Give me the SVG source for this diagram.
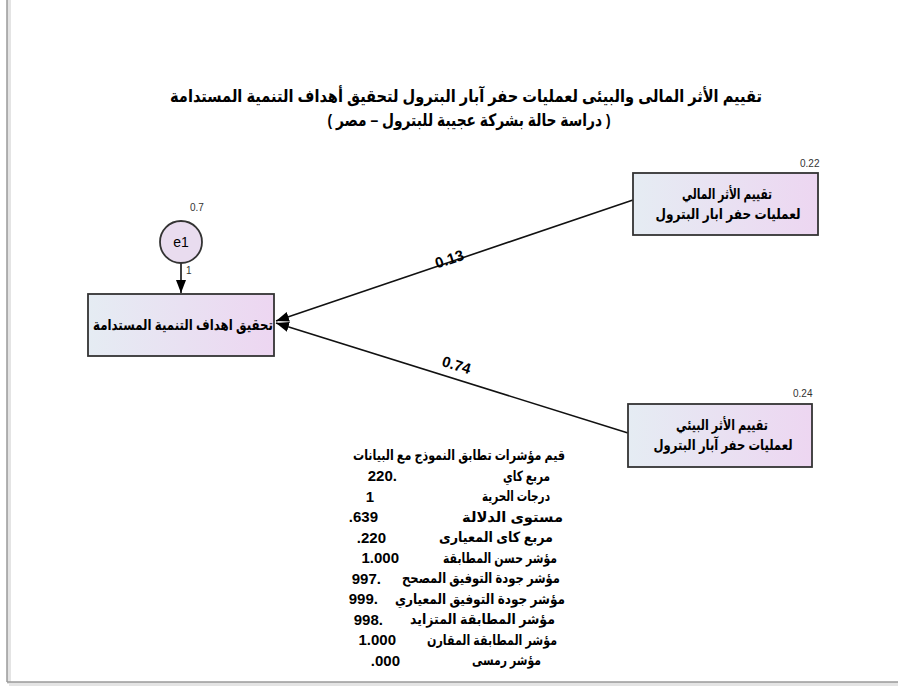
<svg xmlns="http://www.w3.org/2000/svg" width="898" height="686" viewBox="0 0 898 686">
<defs>
<linearGradient id="boxfill" x1="0" y1="0" x2="1" y2="0">
<stop offset="0" stop-color="#e5ecf3"/>
<stop offset="1" stop-color="#edd6f1"/>
</linearGradient>
<marker id="arr" viewBox="0 0 13 10" refX="13" refY="5" markerWidth="13" markerHeight="10" markerUnits="userSpaceOnUse" orient="auto">
<path d="M0,0 L13,5 L0,10 z" fill="#000"/>
</marker>
</defs>
<style>
.ar{font-family:'Liberation Sans','DejaVu Sans',sans-serif;font-weight:bold;fill:#000}
.box{fill:url(#boxfill);stroke:#333;stroke-width:1.8}
.small{font-family:'Liberation Sans','DejaVu Sans',sans-serif;font-size:10px;fill:#333}
.num{font-family:'Liberation Sans',sans-serif;font-weight:bold;font-size:15px;fill:#000;text-anchor:end}
.tab{font-family:'Liberation Sans','DejaVu Sans',sans-serif;font-weight:bold;font-size:14px;fill:#000;text-anchor:end}
.conn{stroke:#111;stroke-width:1.6;fill:none}
</style>
<rect x="0" y="0" width="898" height="686" fill="#fff"/>
<g id="frame">
<line x1="9" y1="0" x2="9" y2="684" stroke="#e4e4e4" stroke-width="4"/>
<line x1="9" y1="684" x2="898" y2="684" stroke="#e4e4e4" stroke-width="4"/>
<line x1="7" y1="0" x2="7" y2="682" stroke="#9a9a9a" stroke-width="1.5"/>
<line x1="7" y1="682" x2="898" y2="682" stroke="#9a9a9a" stroke-width="1.5"/>
</g>
<g id="title">
<text class="ar" x="466" y="102" font-size="17" text-anchor="middle" textLength="592" lengthAdjust="spacingAndGlyphs">تقييم الأثر المالى والبيئى لعمليات حفر آبار البترول لتحقيق أهداف التنمية المستدامة</text>
<text class="ar" x="469" y="126" font-size="17" text-anchor="middle" textLength="283" lengthAdjust="spacingAndGlyphs">( دراسة حالة بشركة عجيبة للبترول – مصر )</text>
</g>
<g id="connectors">
<line class="conn" x1="633" y1="200" x2="276" y2="321" marker-end="url(#arr)"/>
<line class="conn" x1="628" y1="433" x2="276" y2="323" marker-end="url(#arr)"/>
<line class="conn" x1="181" y1="263" x2="181" y2="293" marker-end="url(#arr)"/>
<text class="num" transform="translate(451,264) rotate(-18)" style="text-anchor:middle">0.13</text>
<text class="num" transform="translate(455,370) rotate(17)" style="text-anchor:middle">0.74</text>
<text class="small" x="186" y="274" font-size="11">1</text>
</g>
<g id="e1">
<circle cx="181" cy="242" r="21" fill="#e9dcef" stroke="#333" stroke-width="1.8"/>
<text x="181" y="247" font-family="'Liberation Sans',sans-serif" font-size="14" text-anchor="middle" fill="#000">e1</text>
<text class="small" x="190" y="211">0.7</text>
</g>
<g id="node-target">
<rect class="box" x="88" y="294" width="186" height="62"/>
<text class="ar" x="183" y="330" font-size="15" text-anchor="middle" textLength="180" lengthAdjust="spacingAndGlyphs">تحقيق اهداف التنمية المستدامة</text>
</g>
<g id="node-financial">
<rect class="box" x="633" y="173" width="185" height="62"/>
<text class="ar" x="727" y="199" font-size="15" text-anchor="middle" textLength="90" lengthAdjust="spacingAndGlyphs">تقييم الأثر المالي</text>
<text class="ar" x="728" y="219" font-size="15" text-anchor="middle" textLength="145" lengthAdjust="spacingAndGlyphs">لعمليات حفر ابار البترول</text>
<text class="small" x="800" y="167">0.22</text>
</g>
<g id="node-environmental">
<rect class="box" x="628" y="404" width="184" height="63"/>
<text class="ar" x="722" y="430" font-size="15" text-anchor="middle" textLength="92" lengthAdjust="spacingAndGlyphs">تقييم الأثر البيئي</text>
<text class="ar" x="723" y="450" font-size="15" text-anchor="middle" textLength="139" lengthAdjust="spacingAndGlyphs">لعمليات حفر آبار البترول</text>
<text class="small" x="793" y="397">0.24</text>
</g>
<g id="fit-table">
<text class="tab" x="565" y="460" textLength="212" lengthAdjust="spacingAndGlyphs">قيم مؤشرات تطابق النموذج مع البيانات</text>
<text class="tab" x="550" y="480.5" textLength="47" lengthAdjust="spacingAndGlyphs">مربع كاي</text>
<text class="tab" x="550" y="501" textLength="68" lengthAdjust="spacingAndGlyphs">درجات الحرية</text>
<text class="tab" x="563" y="521.5" textLength="101" lengthAdjust="spacingAndGlyphs">مستوى الدلالة</text>
<text class="tab" x="553" y="542" textLength="114" lengthAdjust="spacingAndGlyphs">مربع كاى المعيارى</text>
<text class="tab" x="557" y="562.5" textLength="114" lengthAdjust="spacingAndGlyphs">مؤشر حسن المطابقة</text>
<text class="tab" x="560" y="583" textLength="158" lengthAdjust="spacingAndGlyphs">مؤشر جودة التوفيق المصحح</text>
<text class="tab" x="565" y="603.5" textLength="170" lengthAdjust="spacingAndGlyphs">مؤشر جودة التوفيق المعياري</text>
<text class="tab" x="555" y="624" textLength="145" lengthAdjust="spacingAndGlyphs">مؤشر المطابقة المتزايد</text>
<text class="tab" x="557" y="644.5" textLength="130" lengthAdjust="spacingAndGlyphs">مؤشر المطابقة المقارن</text>
<text class="tab" x="541" y="665" textLength="69" lengthAdjust="spacingAndGlyphs">مؤشر رمسى</text>
<text class="num" x="392.8" y="481">220</text><text class="num" x="397" y="481">.</text>
<text class="num" x="374" y="501.5">1</text>
<text class="num" x="353" y="522">.</text><text class="num" x="378" y="522">639</text>
<text class="num" x="361" y="542.5">.</text><text class="num" x="386" y="542.5">220</text>
<text class="num" x="399" y="563">1.000</text>
<text class="num" x="376.8" y="583.5">997</text><text class="num" x="381" y="583.5">.</text>
<text class="num" x="373.8" y="604">999</text><text class="num" x="378" y="604">.</text>
<text class="num" x="378.8" y="624.5">998</text><text class="num" x="383" y="624.5">.</text>
<text class="num" x="396" y="645">1.000</text>
<text class="num" x="375" y="665.5">.</text><text class="num" x="400" y="665.5">000</text>
</g>
</svg>
